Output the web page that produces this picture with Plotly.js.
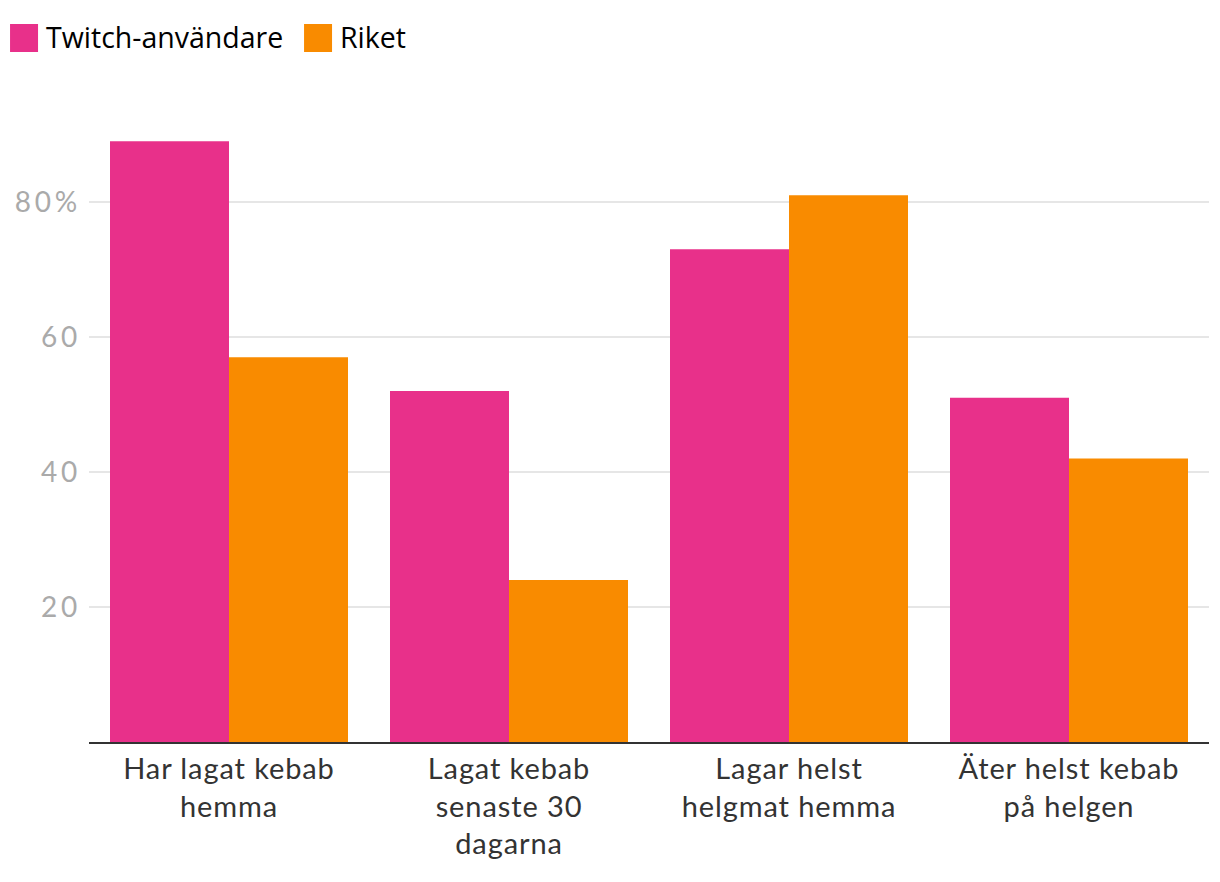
<!DOCTYPE html>
<html>
<head>
<meta charset="utf-8">
<script src="https://cdn.plot.ly/plotly-3.0.1.min.js"></script>
<style>
html,body{margin:0;padding:0;background:#fff;}
#chart{width:1220px;height:882px;}
#chart .xtick text{letter-spacing:0.9px;}
#chart .ytick text{letter-spacing:3.8px;}
</style>
</head>
<body>
<div id="chart"></div>
<script>
const categories = ["Har lagat kebab<br>hemma", "Lagat kebab<br>senaste 30<br>dagarna", "Lagar helst<br>helgmat hemma", "Äter helst kebab<br>på helgen"];
const twitchValues = [89, 52, 73, 51];
const riketValues = [57, 24, 81, 42];
const seriesNames = ["Twitch-användare", "Riket"];
const seriesColors = ["#e8308a", "#f98b00"];
const tickVals = [20, 40, 60, 80];
const tickText = ["20", "40", "60", "80%"];

const traces = [
  {type: "bar", name: seriesNames[0], x: categories, y: twitchValues, marker: {color: seriesColors[0]}, hoverinfo: "y+name"},
  {type: "bar", name: seriesNames[1], x: categories, y: riketValues, marker: {color: seriesColors[1]}, hoverinfo: "y+name"}
];

const layout = {
  width: 1220, height: 882,
  margin: {l: 89, r: 11, t: 121, b: 140},
  paper_bgcolor: "#fff", plot_bgcolor: "#fff",
  barmode: "group", bargap: 0.15, bargroupgap: 0,
  showlegend: false,
  font: {family: "Lato, sans-serif", color: "#333"},
  xaxis: {
    type: "category",
    showline: true, linecolor: "#333", linewidth: 2,
    ticks: "", showgrid: false,
    tickfont: {family: "Lato, sans-serif", size: 29, color: "#333"}
  },
  yaxis: {
    range: [0, 92], showline: false, zeroline: false,
    tickvals: tickVals, ticktext: tickText,
    gridcolor: "#e6e6e6", gridwidth: 1.5,
    ticks: "", ticklabelstandoff: 7,
    tickfont: {family: "Lato, sans-serif", size: 28, color: "#aaaaaa"}
  },
  shapes: [
    {type: "rect", xref: "paper", yref: "paper", x0: -0.0705, x1: -0.0455, y0: 1.1111, y1: 1.1562, fillcolor: seriesColors[0], line: {width: 0}},
    {type: "rect", xref: "paper", yref: "paper", x0: 0.1920, x1: 0.2170, y0: 1.1111, y1: 1.1562, fillcolor: seriesColors[1], line: {width: 0}}
  ],
  annotations: [
    {xref: "paper", yref: "paper", x: -0.0402, y: 1.1345, xanchor: "left", yanchor: "middle", showarrow: false, text: seriesNames[0], font: {family: "Open Sans, sans-serif", size: 28.5, color: "#000"}},
    {xref: "paper", yref: "paper", x: 0.2220, y: 1.1345, xanchor: "left", yanchor: "middle", showarrow: false, text: seriesNames[1], font: {family: "Open Sans, sans-serif", size: 28.5, color: "#000"}}
  ]
};

Plotly.newPlot("chart", traces, layout, {displayModeBar: false});
</script>
</body>
</html>
